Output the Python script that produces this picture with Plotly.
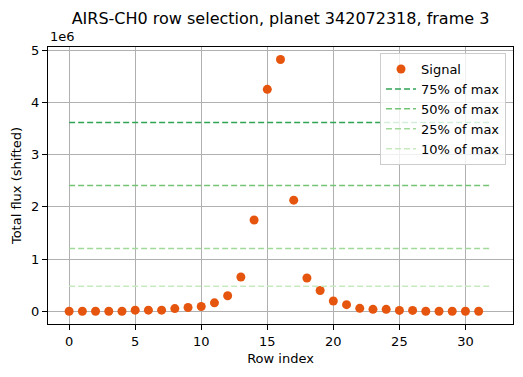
import plotly.graph_objects as go

rows = list(range(32))
signal = [0.005e6, 0.005e6, 0.005e6, 0.005e6, 0.005e6, 0.025e6, 0.025e6, 0.025e6,
          0.055e6, 0.075e6, 0.095e6, 0.165e6, 0.30e6, 0.66e6, 1.75e6, 4.25e6,
          4.82e6, 2.13e6, 0.64e6, 0.40e6, 0.20e6, 0.13e6, 0.06e6, 0.04e6,
          0.04e6, 0.02e6, 0.02e6, 0.005e6, 0.005e6, 0.005e6, 0.005e6, 0.005e6]
fractions = [0.75, 0.50, 0.25, 0.10]
frac_labels = ["75% of max", "50% of max", "25% of max", "10% of max"]
frac_colors = ["#31a354", "#74c476", "#a1d99b", "#c7e9c0"]
line_x = [0, 32]
y_ticks = [0, 1e6, 2e6, 3e6, 4e6, 5e6]
y_tick_labels = ["0", "1", "2", "3", "4", "5"]
x_ticks = [0, 5, 10, 15, 20, 25, 30]

FONT = "DejaVu Sans"
fig = go.Figure()
fig.add_trace(go.Scatter(x=rows, y=signal, mode="markers", name="Signal",
                         marker=dict(color="#e6550d", size=9)))
smax = max(signal)
for f, lab, col in zip(fractions, frac_labels, frac_colors):
    fig.add_trace(go.Scatter(x=line_x, y=[f * smax] * 2, mode="lines", name=lab,
                             line=dict(color=col, width=1.5, dash="6px,3px")))

axis_common = dict(showline=True, linecolor="black", linewidth=1, mirror=True,
                   showgrid=True, gridcolor="#b0b0b0", gridwidth=1,
                   ticks="outside", ticklen=5, tickcolor="black", zeroline=False,
                   automargin=False,
                   tickfont=dict(family=FONT, size=13, color="black"))
fig.update_layout(
    width=523, height=377,
    margin=dict(l=48, r=10, t=47, b=53),
    paper_bgcolor="white", plot_bgcolor="white",
    font=dict(family=FONT, size=13, color="black"),
    title=dict(text="AIRS-CH0 row selection, planet 342072318, frame 3",
               x=0.5, xref="paper", xanchor="center",
               y=1 - 18 / 377, yref="container", yanchor="middle",
               font=dict(family=FONT, size=16, color="black")),
    xaxis=dict(range=[-1.6, 33.6], tickvals=x_ticks,
               title=dict(text="Row index", font=dict(family=FONT, size=13), standoff=6),
               **axis_common),
    yaxis=dict(range=[-0.24e6, 5.06e6], tickvals=y_ticks, ticktext=y_tick_labels,
               title=dict(text="Total flux (shifted)", font=dict(family=FONT, size=13), standoff=6),
               **axis_common),
    legend=dict(x=0.985, y=0.978, xanchor="right", yanchor="top",
                bgcolor="rgba(255,255,255,0.8)", bordercolor="#cccccc", borderwidth=1,
                font=dict(family=FONT, size=13, color="black"), tracegroupgap=0),
    showlegend=True,
)
fig.add_annotation(text="1e6", xref="paper", yref="paper", x=0.0, y=1.0,
                   xanchor="left", yanchor="bottom", showarrow=False, yshift=1,
                   font=dict(family=FONT, size=13, color="black"))
fig.write_html("out.html", config={"displayModeBar": False},
               post_script="document.body.style.margin='0px';document.body.style.overflow='hidden';")
